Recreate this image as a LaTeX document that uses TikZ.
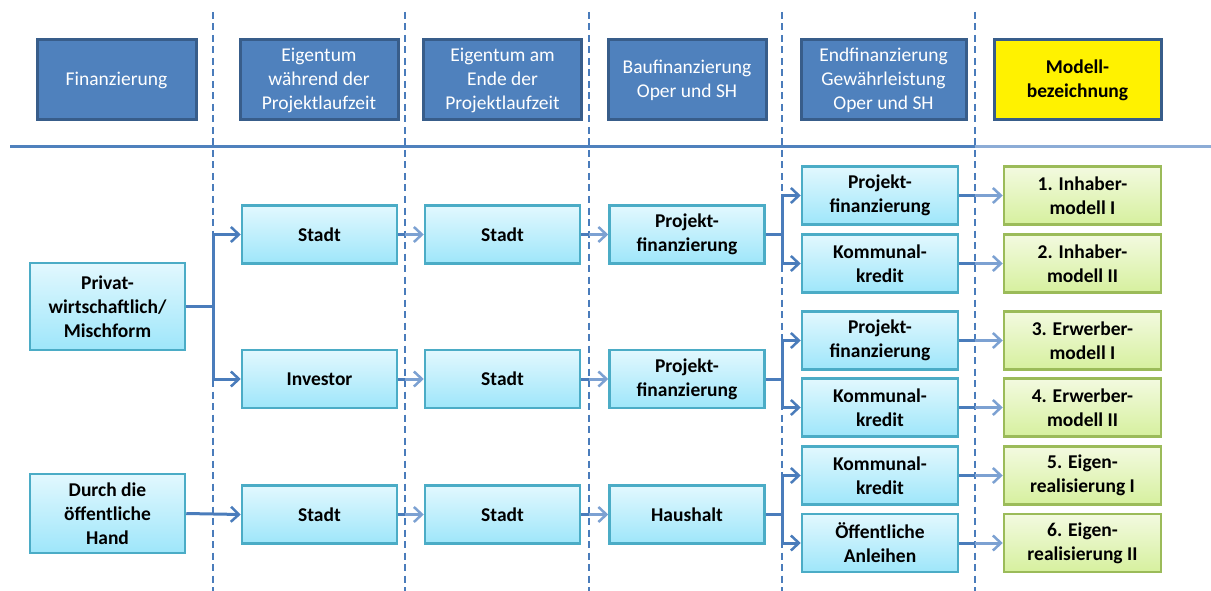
\documentclass[tikz,border=0pt]{standalone}
\usepackage{fontspec}
\setmainfont{Carlito}
\usetikzlibrary{arrows.meta}
\definecolor{hdrfill}{RGB}{79,129,189}
\definecolor{hdrline}{RGB}{56,93,138}
\definecolor{conn}{RGB}{74,124,187}
\definecolor{connlight}{RGB}{124,161,210}
\definecolor{hlight}{RGB}{140,172,214}
\definecolor{bluetop}{RGB}{226,248,254}
\definecolor{bluebot}{RGB}{158,230,250}
\definecolor{blueline}{RGB}{75,172,198}
\definecolor{greentop}{RGB}{243,250,224}
\definecolor{greenbot}{RGB}{214,240,158}
\definecolor{greenline}{RGB}{155,187,89}
\begin{document}
\begin{tikzpicture}[x=1pt,y=-1pt,
  txt/.style={font=\fontsize{19.5}{24}\selectfont},
  hdrbox/.style={txt,draw=hdrline,line width=3pt,fill=hdrfill,text=white,
    align=center,inner sep=0pt,minimum height=80pt},
  modbox/.style={hdrbox,fill=yellow,text=black,font=\fontsize{19.5}{24}\selectfont\bfseries},
  bodybox/.style={txt,draw=blueline,line width=2.5pt,top color=bluetop,bottom color=bluebot,
    align=center,inner sep=0pt,minimum width=155pt,font=\fontsize{19.5}{24}\selectfont\bfseries},
  greenbox/.style={bodybox,draw=greenline,top color=greentop,bottom color=greenbot,minimum width=157pt},
  sep/.style={draw=conn,line width=2.5pt,dash pattern=on 7pt off 4.5pt},
  conline/.style={draw=conn,line width=3pt},
  arr/.style={conline,-{Straight Barb[length=8pt,width=15pt,line width=2.5pt]}},
  arrl/.style={draw=connlight,line width=3pt,-{Straight Barb[length=8pt,width=15pt,line width=2.5pt]}}
]
\useasboundingbox (0,0) rectangle (1211,591);

% separators
\coordinate (v1) at (213,0);
\coordinate (v2) at (405,0);
\coordinate (v3) at (589,0);
\coordinate (v4) at (782,0);
\coordinate (v5) at (975,0);
\foreach \x in {213,405,589,782,975}
  \draw[sep] (\x,12) -- (\x,591);
\draw[draw=hdrfill,line width=3pt] (10,147) -- (975,147);
\draw[draw=hlight,line width=3pt] (975,147) -- (1211,147);

% headers
\node[hdrbox,minimum width=159pt] (h1) at (116.5,80) {Finanzierung};
\node[hdrbox,minimum width=158pt] (h2) at (319,80) {Eigentum\\während der\\Projektlaufzeit};
\node[hdrbox,minimum width=158pt] (h3) at (502.5,80) {Eigentum am\\Ende der\\Projektlaufzeit};
\node[hdrbox,minimum width=158pt] (h4) at (687,80) {Baufinanzierung\\Oper und SH};
\node[hdrbox,minimum width=165pt] (h5) at (883.5,80) {Endfinanzierung\\Gewährleistung\\Oper und SH};
\node[modbox,minimum width=167pt] (h6) at (1077.5,80) {Modell-\\bezeichnung};

% column 1
\node[bodybox,minimum height=87pt] (priv) at (107.5,306.5) {Privat-\\wirtschaftlich/\\Mischform};
\node[bodybox,minimum height=79pt] (oeff) at (107.5,513.5) {Durch die\\öffentliche\\Hand};
% column 2
\node[bodybox,minimum height=58pt] (s2a) at (319.5,234.5) {Stadt};
\node[bodybox,minimum height=58pt] (inv) at (319.5,379) {Investor};
\node[bodybox,minimum height=58pt] (s2c) at (319.5,514.5) {Stadt};
% column 3
\node[bodybox,minimum height=58pt] (s3a) at (502.5,234.5) {Stadt};
\node[bodybox,minimum height=58pt] (s3b) at (502.5,379) {Stadt};
\node[bodybox,minimum height=58pt] (s3c) at (502.5,514.5) {Stadt};
% column 4
\node[bodybox,minimum height=58pt] (p4a) at (687,234.5) {Projekt-\\finanzierung};
\node[bodybox,minimum height=58pt] (p4b) at (687,379) {Projekt-\\finanzierung};
\node[bodybox,minimum height=58pt] (hh) at (687,514.5) {Haushalt};
% column 5
\node[bodybox,minimum width=156pt,minimum height=58pt] (r1) at (880,195.5) {Projekt-\\finanzierung};
\node[bodybox,minimum width=156pt,minimum height=58pt] (r2) at (880,263.5) {Kommunal-\\kredit};
\node[bodybox,minimum width=156pt,minimum height=58pt] (r3) at (880,340.5) {Projekt-\\finanzierung};
\node[bodybox,minimum width=156pt,minimum height=58pt] (r4) at (880,407.5) {Kommunal-\\kredit};
\node[bodybox,minimum width=156pt,minimum height=58pt] (r5) at (880,475.5) {Kommunal-\\kredit};
\node[bodybox,minimum width=156pt,minimum height=58pt] (r6) at (880,543) {Öffentliche\\Anleihen};
% column 6
\node[greenbox,minimum height=58pt] (m1) at (1082.5,195.5) {1. Inhaber-\\modell I};
\node[greenbox,minimum height=58pt] (m2) at (1082.5,263.5) {2. Inhaber-\\modell II};
\node[greenbox,minimum height=58pt] (m3) at (1082.5,340.5) {3. Erwerber-\\modell I};
\node[greenbox,minimum height=58pt] (m4) at (1082.5,407.5) {4. Erwerber-\\modell II};
\node[greenbox,minimum height=58pt] (m5) at (1082.5,475.5) {5. Eigen-\\realisierung I};
\node[greenbox,minimum height=58pt] (m6) at (1082.5,543) {6. Eigen-\\realisierung II};

% connectors col1 -> col2
\draw[conline] (priv.east) -- (priv.east -| v1);
\draw[arr] (priv.east -| v1) |- (s2a.west);
\draw[arr] (priv.east -| v1) |- (inv.west);
\draw[arr] (oeff.east) -- (s2c.west);
% col2 -> col3
\foreach \a/\b in {s2a/s3a,inv/s3b,s2c/s3c}{
  \draw[conline] (\a.east) -- (\a.east -| v2);
  \draw[arrl] (\a.east -| v2) -- (\b.west);
}
% col3 -> col4
\foreach \a/\b in {s3a/p4a,s3b/p4b,s3c/hh}{
  \draw[conline] (\a.east) -- (\a.east -| v3);
  \draw[arrl] (\a.east -| v3) -- (\b.west);
}
% col4 -> col5
\foreach \a/\b/\c in {p4a/r1/r2,p4b/r3/r4,hh/r5/r6}{
  \draw[conline] (\a.east) -- (\a.east -| v4);
  \draw[arr] (\a.east -| v4) |- (\b.west);
  \draw[arr] (\a.east -| v4) |- (\c.west);
}
% col5 -> col6
\foreach \a/\b in {r1/m1,r2/m2,r3/m3,r4/m4,r5/m5,r6/m6}{
  \draw[conline] (\a.east) -- (\a.east -| v5);
  \draw[arrl] (\a.east -| v5) -- (\b.west);
}
\end{tikzpicture}
\end{document}
